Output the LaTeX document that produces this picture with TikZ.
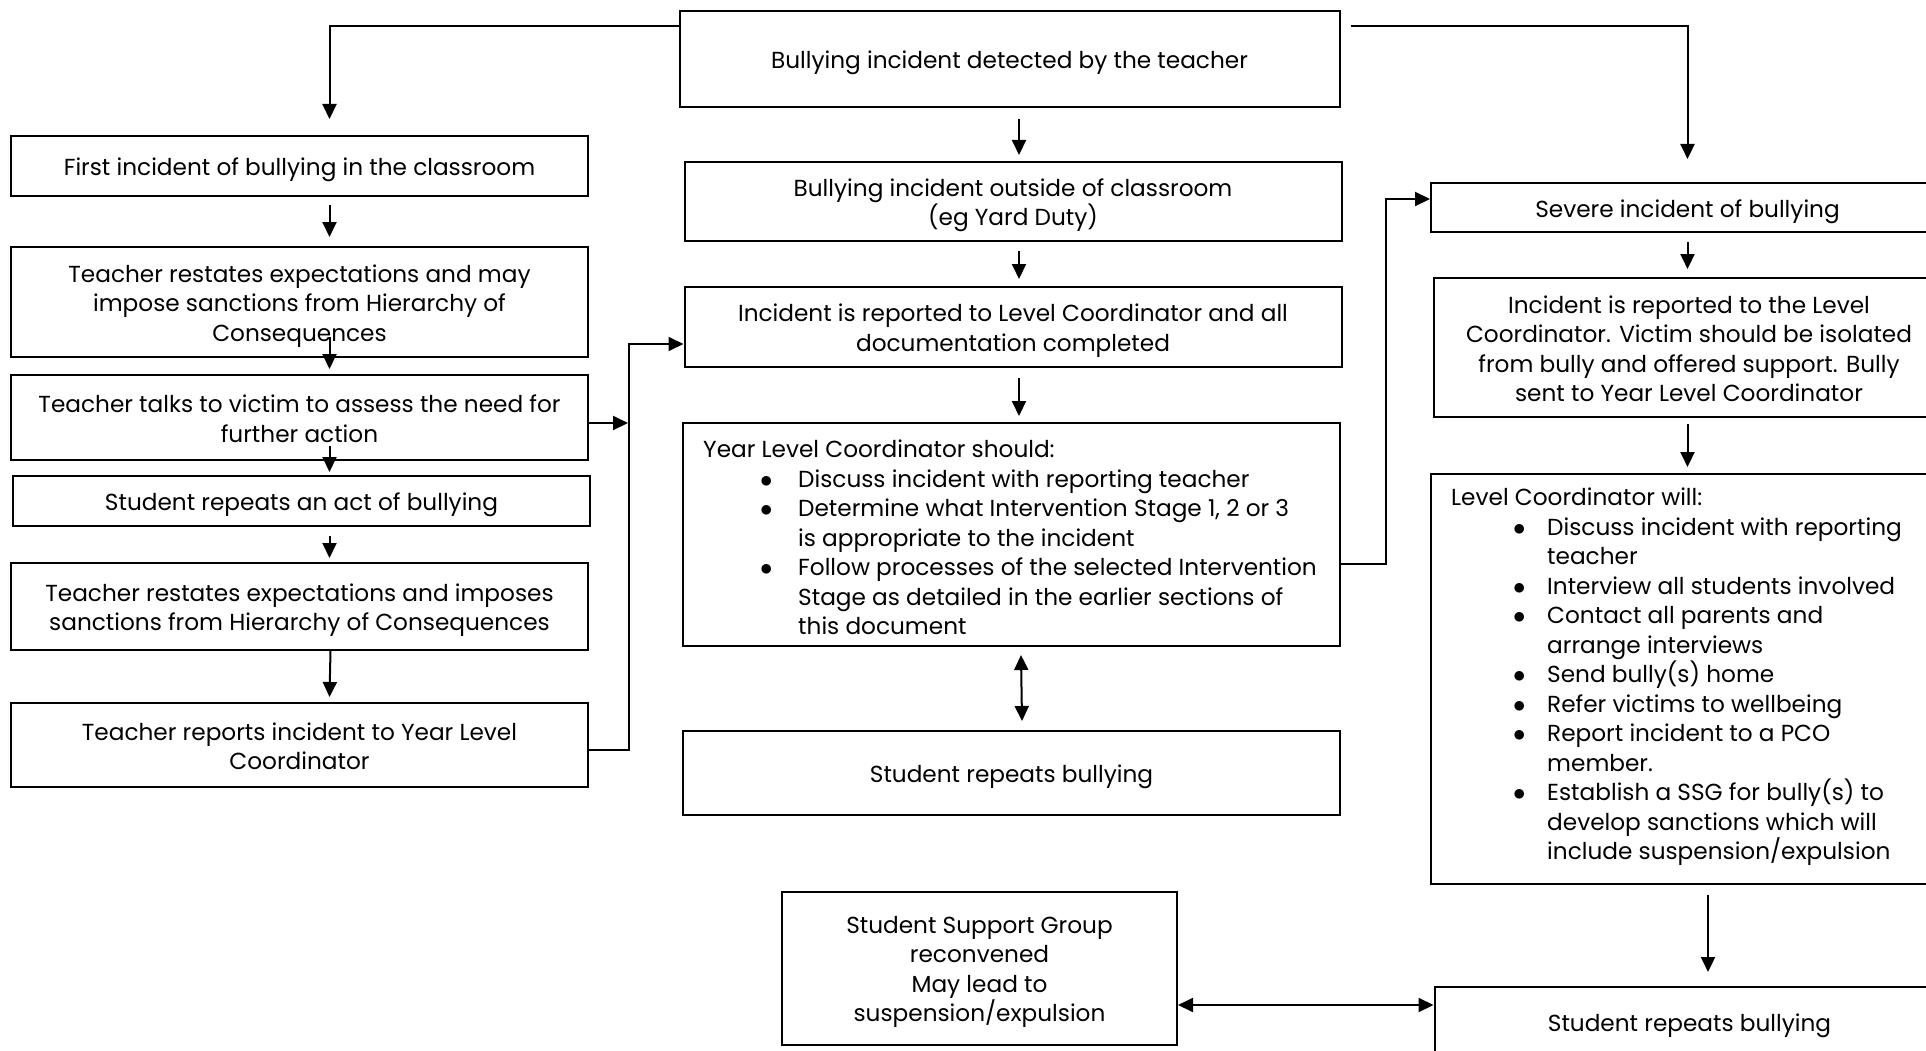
\documentclass[tikz,border=0pt]{standalone}
\usepackage{fontspec}
\setmainfont{Poppins}
\usetikzlibrary{arrows.meta}
\newcommand{\mbul}{\makebox[95pt][l]{\hspace{57pt}$\bullet$}}
\newcommand{\mcont}{\hspace*{95pt}}
\newcommand{\rbul}{\makebox[96pt][l]{\hspace{62pt}$\bullet$}}
\newcommand{\rcont}{\hspace*{96pt}}
\newcommand{\tfirst}{\rule{0pt}{25.5pt}}
\newcommand{\tlast}{\rule[-6pt]{0pt}{6pt}}
\begin{document}
\begin{tikzpicture}[x=1pt,y=-1pt,
  every node/.style={font=\fontsize{23.2}{29.5}\selectfont},
  box/.style={draw, line width=2pt, inner sep=0pt, align=center},
  txt/.style={inner sep=0pt, align=left, anchor=west},
  arr/.style={line width=2pt, -{Triangle[length=15pt,width=14pt]}},
  darr/.style={line width=2pt, {Triangle[length=15pt,width=14pt]}-{Triangle[length=15pt,width=14pt]}}]
\useasboundingbox (0,0) rectangle (1926,1051);
% top
\node[box, minimum width=660pt, minimum height=96pt] (T) at (1009.5,59) {\tfirst Bullying incident detected by the teacher\tlast};
% left column
\node[box, minimum width=577pt, minimum height=60pt] (L1) at (299.5,166) {\tfirst First incident of bullying in the classroom\tlast};
\node[box, minimum width=577pt, minimum height=110pt] (L2) at (299.5,302) {\tfirst Teacher restates expectations and may\\impose sanctions from Hierarchy of\\Consequences\tlast};
\node[box, minimum width=577pt, minimum height=85pt] (L3) at (299.5,417.5) {\tfirst Teacher talks to victim to assess the need for\\further action\tlast};
\node[box, minimum width=577pt, minimum height=50pt] (L4) at (301.5,501) {\tfirst Student repeats an act of bullying\tlast};
\node[box, minimum width=577pt, minimum height=87pt] (L5) at (299.5,606.5) {\tfirst Teacher restates expectations and imposes\\sanctions from Hierarchy of Consequences\tlast};
\node[box, minimum width=577pt, minimum height=84pt] (L6) at (299.5,745) {\tfirst Teacher reports incident to Year Level\\Coordinator\tlast};
% middle column
\node[box, minimum width=657pt, minimum height=79pt] (M1) at (1013,201.5) {\tfirst Bullying incident outside of classroom\\(eg Yard Duty)\tlast};
\node[box, minimum width=657pt, minimum height=80pt] (M2) at (1013,327) {\tfirst Incident is reported to Level Coordinator and all\\documentation completed\tlast};
\node[box, minimum width=657pt, minimum height=223pt] (M3) at (1011.5,534.5) {};
\node[txt] (M3t) at (703,537.5) {Year Level Coordinator should:\\
\mbul Discuss incident with reporting teacher\\
\mbul Determine what Intervention Stage 1, 2 or 3\\
\mcont is appropriate to the incident\\
\mbul Follow processes of the selected Intervention\\
\mcont Stage as detailed in the earlier sections of\\
\mcont this document};
\node[box, minimum width=657pt, minimum height=84pt] (M4) at (1011.5,773) {\tfirst Student repeats bullying\tlast};
\node[box, minimum width=395pt, minimum height=153pt] (S) at (979.5,968) {\tfirst Student Support Group\\reconvened\\May lead to\\suspension/expulsion\tlast};
% right column
\node[box, minimum width=513pt, minimum height=49pt] (R1) at (1687.5,207.5) {\tfirst Severe incident of bullying\tlast};
\node[box, minimum width=510pt, minimum height=139pt] (R2) at (1689,347.5) {\tfirst Incident is reported to the Level\\Coordinator. Victim should be isolated\\from bully and offered support. Bully\\sent to Year Level Coordinator\tlast};
\node[box, minimum width=513pt, minimum height=410pt] (R3) at (1687.5,679) {};
\node[txt] (R3t) at (1451,677) {Level Coordinator will:\\
\rbul Discuss incident with reporting\\
\rcont teacher\\
\rbul Interview all students involved\\
\rbul Contact all parents and\\
\rcont arrange interviews\\
\rbul Send bully(s) home\\
\rbul Refer victims to wellbeing\\
\rbul Report incident to a PCO\\
\rcont member.\\
\rbul Establish a SSG for bully(s) to\\
\rcont develop sanctions which will\\
\rcont include suspension/expulsion};
\node[box, minimum width=510pt, minimum height=70pt] (R4) at (1689.5,1022) {\tfirst Student repeats bullying\tlast};
% connectors
\draw[arr] ([yshift=-16pt]T.north west) -| ([xshift=30pt,yshift=16pt]L1.north);
\draw[arr] ([xshift=10pt,yshift=-16pt]T.north east) -| ([yshift=23pt]R1.north);
\draw[arr] ([xshift=9.5pt,yshift=-11pt]T.south) -- ([xshift=6pt,yshift=6pt]M1.north);
\draw[arr] ([xshift=6pt,yshift=-9pt]M1.south) -- ([xshift=6pt,yshift=7pt]M2.north);
\draw[arr] ([xshift=6pt,yshift=-10pt]M2.south) -- ([xshift=7.5pt,yshift=6pt]M3.north);
\draw[darr] ([xshift=9.5pt,yshift=-8pt]M3.south) -- ([xshift=10.5pt,yshift=9pt]M4.north);
\draw[arr] ([yshift=-29pt]M3.east) -- ++(45,0) |- ([yshift=8.5pt]R1.west);
\draw[arr] ([xshift=30pt,yshift=-8pt]L1.south) -- ([xshift=30pt,yshift=9pt]L2.north);
\draw[arr] ([xshift=30pt,yshift=21pt]L2.south) -- ([xshift=30pt,yshift=5pt]L3.north);
\draw[arr] ([xshift=30pt,yshift=15pt]L3.south) -- ([xshift=28pt,yshift=3pt]L4.north);
\draw[arr] ([xshift=28pt,yshift=-9pt]L4.south) -- ([xshift=30pt,yshift=4pt]L5.north);
\draw[arr] ([xshift=31pt]L5.south) -- ([xshift=30pt,yshift=5pt]L6.north);
\draw[arr] ([yshift=-5.5pt]L3.east) -- ++(39,0);
\draw[arr] ([yshift=-5pt]L6.east) -- ++(40,0) |- ([yshift=-17pt]M2.west);
\draw[arr] ([yshift=-9pt]R1.south) -- ([xshift=-1.5pt,yshift=8pt]R2.north);
\draw[arr] ([xshift=-1.5pt,yshift=-6pt]R2.south) -- ([yshift=6pt]R3.north);
\draw[arr] ([xshift=20.5pt,yshift=-10pt]R3.south) -- ([xshift=18.5pt,yshift=14pt]R4.north);
\draw[darr] ([yshift=-37pt]S.east) -- ([yshift=-37pt]S.east -| R4.west);
\end{tikzpicture}
\end{document}
